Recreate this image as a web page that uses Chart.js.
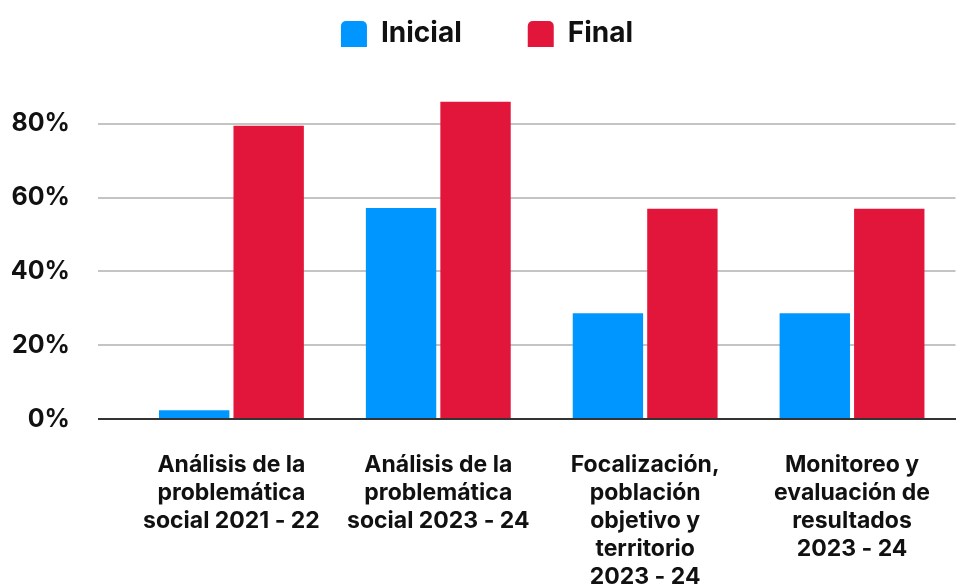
<!DOCTYPE html>
<html>
<head>
<meta charset="utf-8">
<script src="https://cdn.jsdelivr.net/npm/chart.js@4"></script>
<style>
  body { margin: 0; background: #fff; }
</style>
</head>
<body>
<canvas id="chart-inicial-final" width="962" height="586"></canvas>
<script>
  const categorias = [
    ['Análisis de la', 'problemática', 'social 2021 - 22'],
    ['Análisis de la', 'problemática', 'social 2023 - 24'],
    ['Focalización,', 'población', 'objetivo y', 'territorio', '2023 - 24'],
    ['Monitoreo y', 'evaluación de', 'resultados', '2023 - 24']
  ];
  const valoresInicial = [0.024, 0.572, 0.287, 0.287];
  const valoresFinal = [0.795, 0.86, 0.57, 0.57];
  const ticksY = [0, 0.2, 0.4, 0.6, 0.8];

  const colorInicial = '#0096ff';
  const colorFinal = '#e2163b';
  const fuente = "Inter, 'DejaVu Sans', sans-serif";

  // la leyenda usa padding grande para separar items; se recorta su alto
  const ajusteLeyenda = {
    id: 'ajusteLeyenda',
    beforeLayout(chart) {
      const leyenda = chart.legend;
      if (leyenda && !leyenda._ajustada) {
        const fitOriginal = leyenda.fit;
        leyenda.fit = function () {
          fitOriginal.call(this);
          this.height = 133;
        };
        leyenda._ajustada = true;
      }
    }
  };

  new Chart(document.getElementById('chart-inicial-final'), {
    type: 'bar',
    data: {
      labels: categorias,
      datasets: [
        {
          label: 'Inicial',
          data: valoresInicial,
          backgroundColor: colorInicial,
          borderWidth: 0,
          categoryPercentage: 0.72,
          barPercentage: 0.945
        },
        {
          label: 'Final',
          data: valoresFinal,
          backgroundColor: colorFinal,
          borderWidth: 0,
          categoryPercentage: 0.72,
          barPercentage: 0.945
        }
      ]
    },
    plugins: [ajusteLeyenda],
    options: {
      responsive: false,
      animation: false,
      layout: { padding: { left: 12, right: 0, top: -46, bottom: 0 } },
      plugins: {
        legend: {
          position: 'top',
          labels: {
            boxWidth: 26,
            boxHeight: 26,
            useBorderRadius: true,
            borderRadius: { topLeft: 5, topRight: 5, bottomLeft: 0, bottomRight: 0 },
            padding: 66,
            color: '#111',
            font: { family: fuente, size: 28, weight: 'bold' }
          }
        },
        tooltip: { enabled: false }
      },
      scales: {
        x: {
          grid: { display: false, drawTicks: false },
          border: { display: true, color: '#333', width: 2 },
          afterFit: (scale) => { scale.height = 167; },
          ticks: {
            color: '#111',
            padding: 32,
            maxRotation: 0,
            autoSkip: false,
            font: { family: fuente, size: 23, weight: 'bold', lineHeight: 1.22 }
          }
        },
        y: {
          min: 0,
          max: 0.9,
          border: { display: false },
          grid: {
            color: (ctx) => ctx.tick && ctx.tick.value === 0 ? '#333' : '#c4c4c4',
            lineWidth: 2,
            drawTicks: true,
            tickLength: 30
          },
          afterBuildTicks: (scale) => {
            scale.ticks = ticksY.map((v) => ({ value: v }));
          },
          afterFit: (scale) => { scale.width = 116; },
          ticks: {
            color: '#111',
            padding: 28,
            callback: (v) => Math.round(v * 100) + '%',
            font: { family: fuente, size: 25, weight: 'bold' }
          }
        }
      }
    }
  });
</script>
</body>
</html>
